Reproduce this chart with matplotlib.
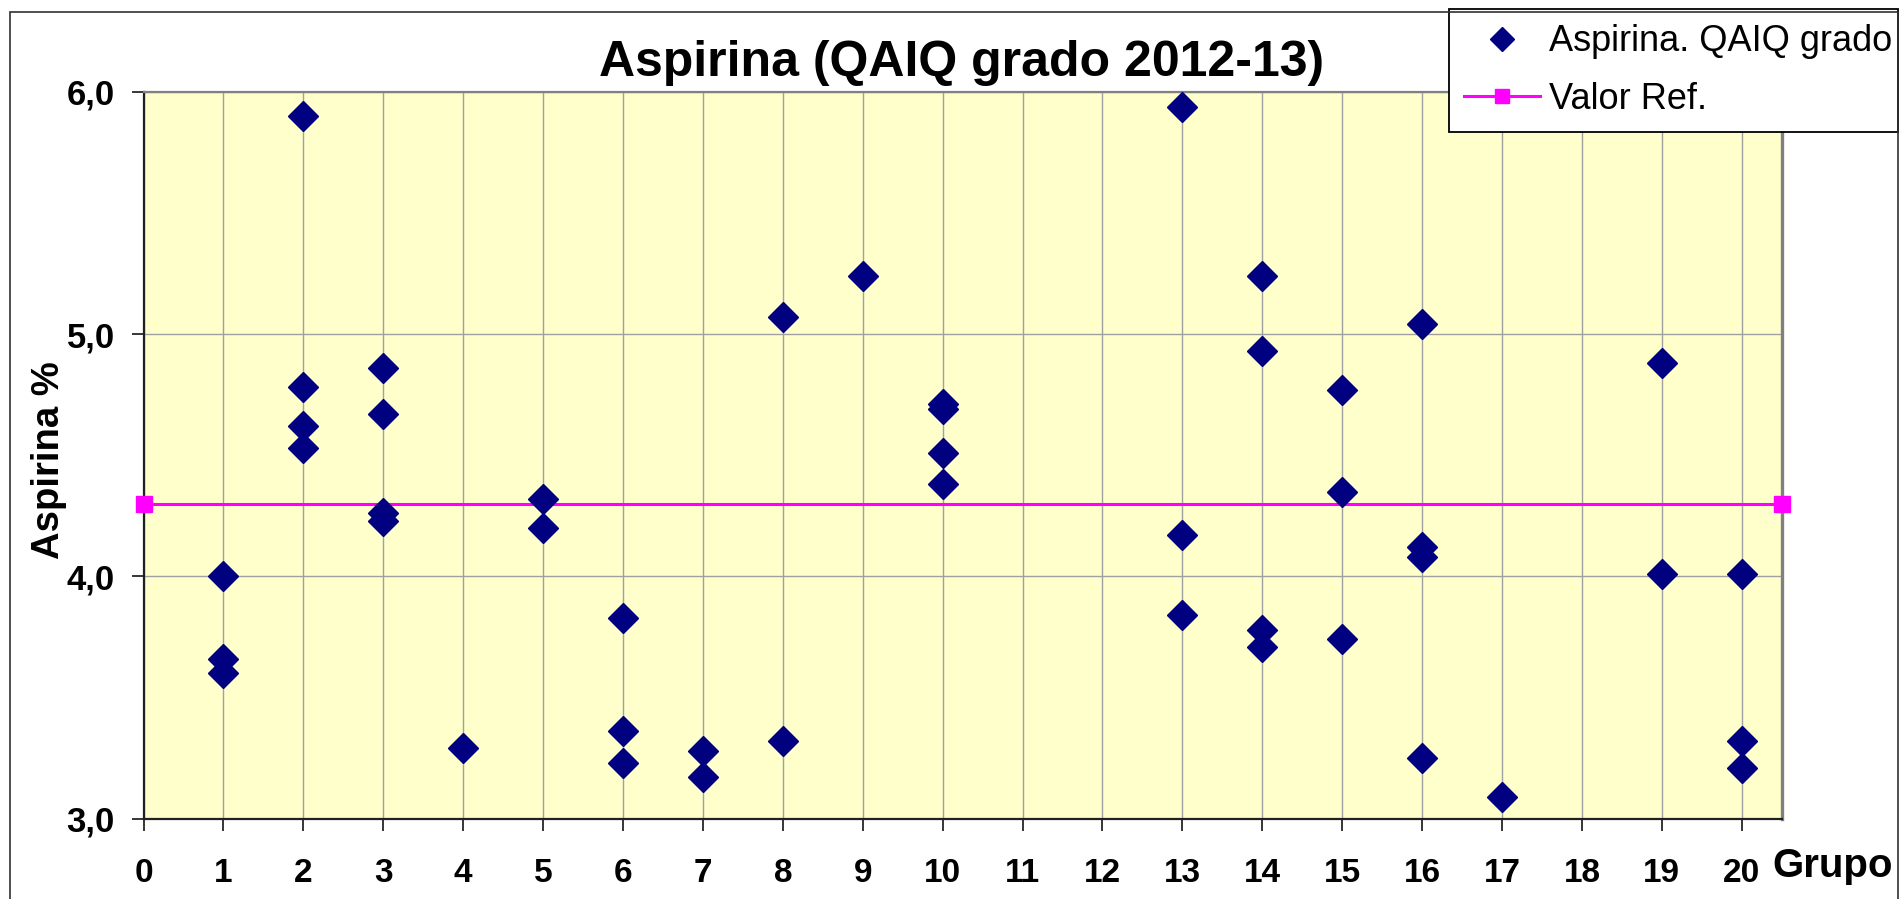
import matplotlib
matplotlib.use("Agg")
import matplotlib.pyplot as plt
from matplotlib.patches import Rectangle
from matplotlib.ticker import FuncFormatter

plt.rcParams['font.family'] = ['Liberation Sans', 'DejaVu Sans']

# data
grupo = [1, 1, 1, 2, 2, 2, 2, 3, 3, 3, 3, 4, 5, 5, 6, 6, 6, 7, 7, 8, 8, 9,
         10, 10, 10, 10, 13, 13, 13, 14, 14, 14, 14, 15, 15, 15,
         16, 16, 16, 16, 17, 19, 19, 20, 20, 20]
aspirina = [4.00, 3.66, 3.60, 5.90, 4.78, 4.62, 4.53, 4.86, 4.67, 4.26, 4.23,
            3.29, 4.32, 4.20, 3.83, 3.36, 3.23, 3.28, 3.17, 5.07, 3.32, 5.24,
            4.71, 4.69, 4.51, 4.38, 5.94, 4.17, 3.84, 5.24, 4.93, 3.78, 3.71,
            4.77, 4.35, 3.74, 5.04, 4.12, 4.08, 3.25, 3.09, 4.88, 4.01,
            4.01, 3.32, 3.21]
ref_x = [0, 20.5]
ref_y = [4.30, 4.30]
x_ticks = list(range(0, 21))
y_ticks = [3, 4, 5, 6]

W, H = 1900, 899
fig = plt.figure(figsize=(W / 100, H / 100), dpi=100)
ax = fig.add_axes([143.5 / W, 1 - 818.5 / H, (1781.7 - 143.5) / W, (818.5 - 92) / H])
ax.set_facecolor('#FFFFCC')

ax.plot(grupo, aspirina, linestyle='none', marker='D', ms=15, color='#000080',
        mec='#000080', label='Aspirina. QAIQ grado', zorder=4)
ax.plot(ref_x, ref_y, color='#FF00FF', lw=2.2, marker='s', ms=12,
        label='Valor Ref.', clip_on=False, zorder=3)

ax.set_xlim(0, 20.5)
ax.set_ylim(3, 6)
ax.set_xticks(x_ticks)
ax.set_yticks(y_ticks)
ax.yaxis.set_major_formatter(FuncFormatter(lambda v, p: f"{v:.1f}".replace('.', ',')))
ax.grid(True, color='#a0a0a0', lw=1.0, zorder=0)
ax.set_axisbelow(True)

ax.tick_params(axis='x', direction='out', length=8.6, width=1.1, pad=19.5, labelsize=24)
ax.tick_params(axis='y', direction='out', length=8.6, width=1.1, pad=12, labelsize=25)
for lab in ax.get_xticklabels() + ax.get_yticklabels():
    lab.set_fontweight('bold')

for s in ['left', 'bottom']:
    ax.spines[s].set_color('#202020')
    ax.spines[s].set_linewidth(1.6)
ax.spines['top'].set_color('#808080')
ax.spines['top'].set_linewidth(1.6)
ax.spines['right'].set_color('#808080')
ax.spines['right'].set_linewidth(2.4)

fig.text(962 / W, 1 - 76 / H, 'Aspirina (QAIQ grado 2012-13)', ha='center',
         va='baseline', fontsize=36, fontweight='bold')
fig.text(49 / W, 1 - 460 / H, 'Aspirina %', rotation=90, ha='center',
         va='center', fontsize=27.5, fontweight='bold')
fig.text(1772 / W, 1 - 877 / H, 'Grupo', ha='left', va='baseline',
         fontsize=29, fontweight='bold')

# outer chart border
fig.patches.append(Rectangle((10 / W, -0.05), (1898 - 10) / W, 1.05 - 12 / H,
                             transform=fig.transFigure, fill=False,
                             edgecolor='#303030', lw=1.2, zorder=0))

leg = ax.legend(loc='upper left', bbox_to_anchor=(1449 / W, 1 - 126 / H, 449 / W, 117 / H),
                bbox_transform=fig.transFigure, mode='expand', borderaxespad=0,
                fontsize=26, handlelength=2.1, handletextpad=0.25, borderpad=0.42,
                labelspacing=0.62, markerscale=0.8, fancybox=False, framealpha=1,
                edgecolor='black')
leg.get_frame().set_linewidth(1.3)
leg.set_zorder(10)

fig.savefig('out.png', dpi=100)
